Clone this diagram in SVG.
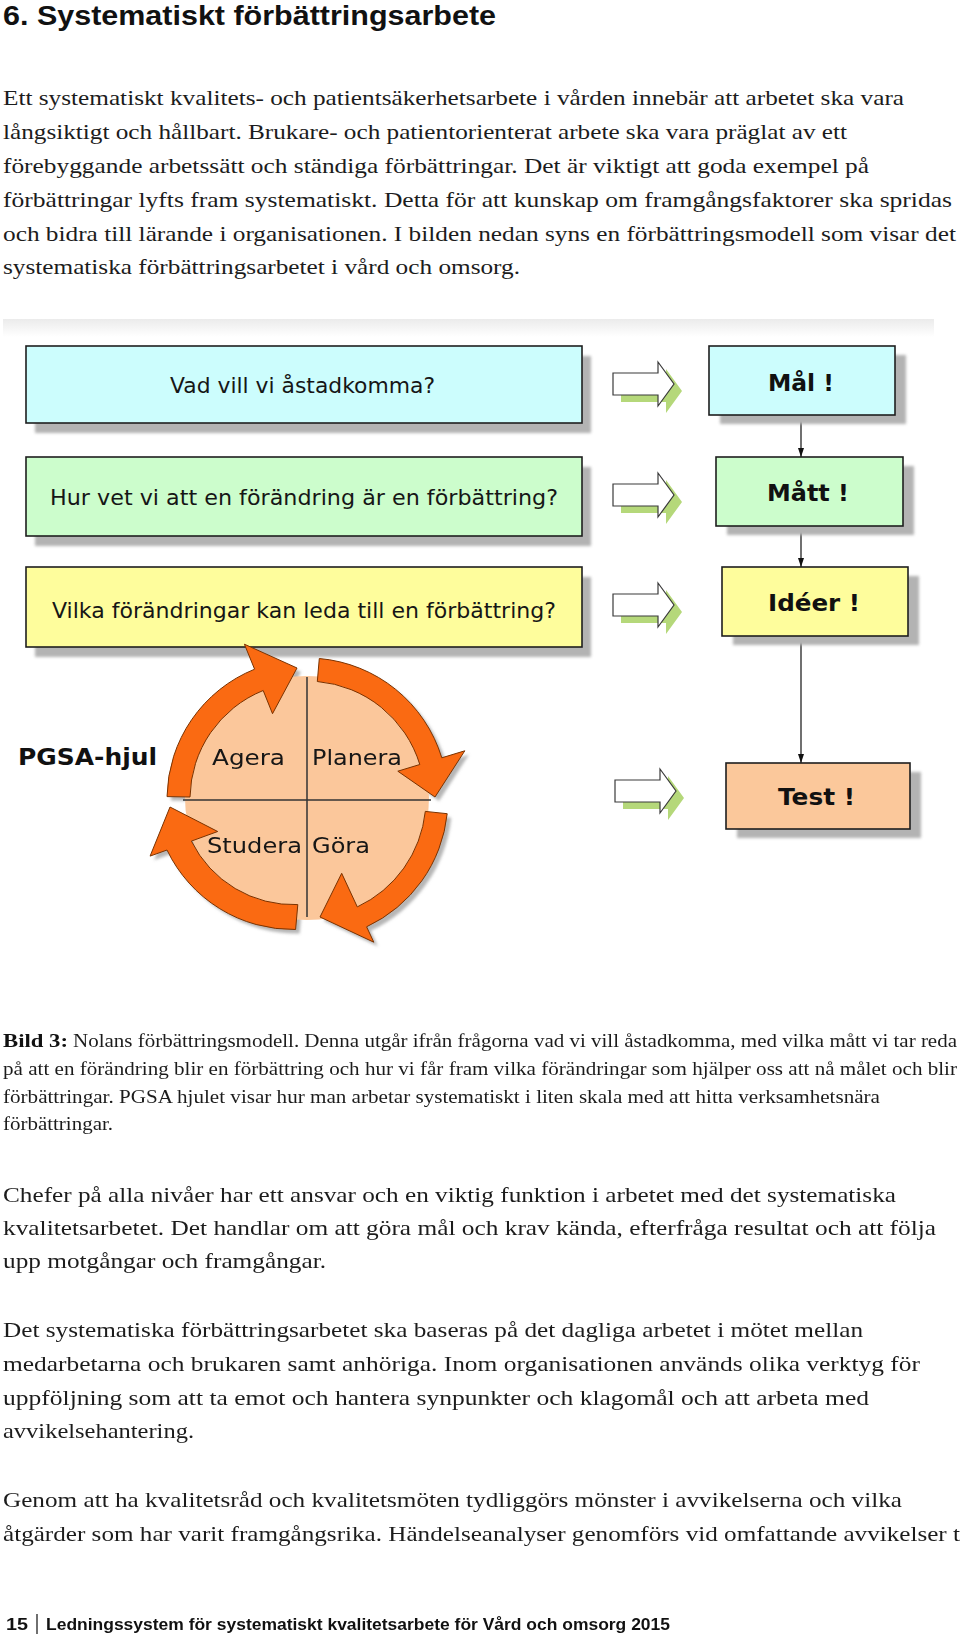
<svg xmlns="http://www.w3.org/2000/svg" width="960" height="1639" viewBox="0 0 960 1639">
<defs>
<style>
.serif{font-family:"Liberation Serif","Times New Roman",serif;font-size:21px;fill:#1c1c1c}
.cap{font-family:"Liberation Serif","Times New Roman",serif;font-size:18.5px;fill:#1c1c1c}
.capb{font-family:"Liberation Serif","Times New Roman",serif;font-size:18.5px;font-weight:bold;fill:#111}
.head{font-family:"Liberation Sans",Arial,sans-serif;font-weight:bold;fill:#111}
.lbl{font-family:"DejaVu Sans",Verdana,sans-serif;font-size:22px;fill:#161616}
.wlbl{font-family:"DejaVu Sans",Verdana,sans-serif;font-size:21px;fill:#161616}
.blbl{font-family:"DejaVu Sans",Verdana,sans-serif;font-weight:bold;font-size:23px;fill:#111}
.box{stroke:#1e1e1e;stroke-width:1.6}
.shadow{fill:#b3b3b3}
.orange{fill:#FA6A12;stroke:#7a3200;stroke-width:1}
.ashadow{fill:#8f8f8f;opacity:0.65}
.hollow{fill:#fff;stroke:#3a3a3a;stroke-width:1.2}
.hshadow{fill:#b5d87a}
.conn{stroke:#111;stroke-width:1.2;fill:none}
.div{stroke:#333;stroke-width:1.5}
</style>
<filter id="blur" x="-20%" y="-20%" width="140%" height="140%"><feGaussianBlur stdDeviation="1.5"/></filter>
<linearGradient id="band" x1="0" y1="0" x2="0" y2="1"><stop offset="0" stop-color="#ebebeb"/><stop offset="1" stop-color="#ffffff"/></linearGradient>
<marker id="ah" markerWidth="9" markerHeight="6" refX="9" refY="3" orient="auto" markerUnits="userSpaceOnUse"><path d="M0,0 L9,3 L0,6 z" fill="#111"/></marker>
<path id="harrow" d="M0,-11 H45 V-22 L61,0 L45,22 V11 H0 Z"/>
<path id="arrP" d="M 319.3 658.5 A 141 141 0 0 1 441.8 757.8 L 464.8 750.8 L 435 797 L 397.8 771.2 L 419.8 764.5 A 118 118 0 0 0 317.3 681.5 Z"/>
<path id="arrG" d="M 447.2 813.7 A 141 141 0 0 1 366.6 926.8 L 373.8 942.2 L 320 917 L 341.7 873.3 L 357.3 906.9 A 119 119 0 0 0 425.3 811.4 Z"/>
<path id="arrS" d="M 295.6 929.5 A 140 140 0 0 1 167.0 850.0 L 150.1 856.1 L 170 807 L 217.7 831.5 L 191.4 841.1 A 114 114 0 0 0 297.8 904.6 Z"/>
<path id="arrA" d="M 167.0 796.6 A 140 140 0 0 1 254.6 669.2 L 244.4 644.2 L 297 668 L 272.5 713.7 L 263.2 690.5 A 117 117 0 0 0 190.0 797.0 Z"/>
</defs>
<rect width="960" height="1639" fill="#fff"/>

<g id="text-top">
<text class="head" x="3" y="25" font-size="27" textLength="493" lengthAdjust="spacingAndGlyphs">6. Systematiskt förbättringsarbete</text>
<text class="serif" x="3" y="105" textLength="901" lengthAdjust="spacingAndGlyphs">Ett systematiskt kvalitets- och patientsäkerhetsarbete i vården innebär att arbetet ska vara</text>
<text class="serif" x="3" y="139" textLength="844" lengthAdjust="spacingAndGlyphs">långsiktigt och hållbart. Brukare- och patientorienterat arbete ska vara präglat av ett</text>
<text class="serif" x="3" y="173" textLength="866" lengthAdjust="spacingAndGlyphs">förebyggande arbetssätt och ständiga förbättringar. Det är viktigt att goda exempel på</text>
<text class="serif" x="3" y="207" textLength="949" lengthAdjust="spacingAndGlyphs">förbättringar lyfts fram systematiskt.  Detta för att kunskap om framgångsfaktorer ska spridas</text>
<text class="serif" x="3" y="241" textLength="953" lengthAdjust="spacingAndGlyphs">och bidra till lärande i organisationen. I bilden nedan syns en förbättringsmodell som visar det</text>
<text class="serif" x="3" y="274" textLength="517" lengthAdjust="spacingAndGlyphs">systematiska förbättringsarbetet i vård och omsorg.</text>
</g>

<rect x="3" y="319" width="931" height="18" fill="url(#band)"/>

<g id="connectors">
<line class="conn" x1="801" y1="415" x2="801" y2="457" marker-end="url(#ah)"/>
<line class="conn" x1="801" y1="526" x2="801" y2="567" marker-end="url(#ah)"/>
<line class="conn" x1="801" y1="636" x2="801" y2="763" marker-end="url(#ah)"/>
<use href="#harrow" class="hshadow" transform="translate(621,391)"/>
<use href="#harrow" class="hollow" transform="translate(613,384)"/>
<use href="#harrow" class="hshadow" transform="translate(621,502)"/>
<use href="#harrow" class="hollow" transform="translate(613,495)"/>
<use href="#harrow" class="hshadow" transform="translate(621,612)"/>
<use href="#harrow" class="hollow" transform="translate(613,605)"/>
<use href="#harrow" class="hshadow" transform="translate(623,798)"/>
<use href="#harrow" class="hollow" transform="translate(615,791)"/>
</g>

<g id="q1">
<rect class="shadow" x="35" y="356" width="556" height="77" filter="url(#blur)"/>
<rect class="box" x="26" y="346" width="556" height="77" fill="#ccfdfd"/>
<text class="lbl" x="170" y="393" textLength="265" lengthAdjust="spacingAndGlyphs">Vad vill vi åstadkomma?</text>
</g>
<g id="q2">
<rect class="shadow" x="35" y="467" width="556" height="79" filter="url(#blur)"/>
<rect class="box" x="26" y="457" width="556" height="79" fill="#ccfdcc"/>
<text class="lbl" x="50" y="505" textLength="508" lengthAdjust="spacingAndGlyphs">Hur vet vi att en förändring är en förbättring?</text>
</g>
<g id="q3">
<rect class="shadow" x="35" y="577" width="556" height="80" filter="url(#blur)"/>
<rect class="box" x="26" y="567" width="556" height="80" fill="#fefd9c"/>
<text class="lbl" x="52" y="618" textLength="504" lengthAdjust="spacingAndGlyphs">Vilka förändringar kan leda till en förbättring?</text>
</g>

<g id="mal">
<rect class="shadow" x="720" y="355" width="186" height="69" filter="url(#blur)"/>
<rect class="box" x="709" y="346" width="186" height="69" fill="#ccfdfd"/>
<text class="blbl" x="768" y="391" textLength="66" lengthAdjust="spacingAndGlyphs">Mål !</text>
</g>
<g id="matt">
<rect class="shadow" x="727" y="466" width="187" height="69" filter="url(#blur)"/>
<rect class="box" x="716" y="457" width="187" height="69" fill="#ccfdcc"/>
<text class="blbl" x="767" y="501" textLength="82" lengthAdjust="spacingAndGlyphs">Mått !</text>
</g>
<g id="ideer">
<rect class="shadow" x="733" y="576" width="186" height="69" filter="url(#blur)"/>
<rect class="box" x="722" y="567" width="186" height="69" fill="#fefd9c"/>
<text class="blbl" x="768" y="611" textLength="92" lengthAdjust="spacingAndGlyphs">Idéer !</text>
</g>
<g id="test">
<rect class="shadow" x="737" y="772" width="184" height="66" filter="url(#blur)"/>
<rect class="box" x="726" y="763" width="184" height="66" fill="#fbc89b"/>
<text class="blbl" x="778" y="805" textLength="77" lengthAdjust="spacingAndGlyphs">Test !</text>
</g>

<g id="pgsa-label">
<text class="blbl" x="18" y="765" textLength="139" lengthAdjust="spacingAndGlyphs">PGSA-hjul</text>
</g>

<g id="pgsa-wheel">
<g transform="translate(4,4)" filter="url(#blur)">
<use href="#arrP" class="ashadow"/>
<use href="#arrG" class="ashadow"/>
<use href="#arrS" class="ashadow"/>
<use href="#arrA" class="ashadow"/>
</g>
<circle cx="307" cy="798" r="122" fill="#fbc79b"/>
<line class="div" x1="307" y1="677" x2="307" y2="917"/>
<line class="div" x1="183" y1="800" x2="431" y2="800"/>
<use href="#arrP" class="orange"/>
<use href="#arrG" class="orange"/>
<use href="#arrS" class="orange"/>
<use href="#arrA" class="orange"/>
<text class="wlbl" x="212" y="765" textLength="73" lengthAdjust="spacingAndGlyphs">Agera</text>
<text class="wlbl" x="312" y="765" textLength="90" lengthAdjust="spacingAndGlyphs">Planera</text>
<text class="wlbl" x="207" y="853" textLength="95" lengthAdjust="spacingAndGlyphs">Studera</text>
<text class="wlbl" x="312" y="853" textLength="58" lengthAdjust="spacingAndGlyphs">Göra</text>
</g>

<g id="caption">
<text class="capb" x="3" y="1047" textLength="65" lengthAdjust="spacingAndGlyphs">Bild 3:</text>
<text class="cap" x="73" y="1047" textLength="884" lengthAdjust="spacingAndGlyphs">Nolans förbättringsmodell. Denna utgår ifrån frågorna vad vi vill åstadkomma, med vilka mått vi tar reda</text>
<text class="cap" x="3" y="1075" textLength="954" lengthAdjust="spacingAndGlyphs">på att en förändring blir en förbättring och hur vi får fram vilka förändringar som hjälper oss att nå målet och blir</text>
<text class="cap" x="3" y="1103" textLength="877" lengthAdjust="spacingAndGlyphs">förbättringar. PGSA hjulet visar hur man arbetar systematiskt i liten skala med att hitta verksamhetsnära</text>
<text class="cap" x="3" y="1130" textLength="110" lengthAdjust="spacingAndGlyphs">förbättringar.</text>
</g>

<g id="text-bottom">
<text class="serif" x="3" y="1202" textLength="893" lengthAdjust="spacingAndGlyphs">Chefer på alla nivåer har ett ansvar och en viktig funktion i arbetet med det systematiska</text>
<text class="serif" x="3" y="1235" textLength="933" lengthAdjust="spacingAndGlyphs">kvalitetsarbetet. Det handlar om att göra mål och krav kända, efterfråga resultat och att följa</text>
<text class="serif" x="3" y="1268" textLength="323" lengthAdjust="spacingAndGlyphs">upp motgångar och framgångar.</text>
<text class="serif" x="3" y="1337" textLength="860" lengthAdjust="spacingAndGlyphs">Det systematiska förbättringsarbetet ska baseras på det dagliga arbetet i mötet mellan</text>
<text class="serif" x="3" y="1371" textLength="917" lengthAdjust="spacingAndGlyphs">medarbetarna och brukaren samt anhöriga. Inom organisationen används olika verktyg för</text>
<text class="serif" x="3" y="1405" textLength="866" lengthAdjust="spacingAndGlyphs">uppföljning som att ta emot och hantera synpunkter och klagomål och att arbeta med</text>
<text class="serif" x="3" y="1438" textLength="191" lengthAdjust="spacingAndGlyphs">avvikelsehantering.</text>
<text class="serif" x="3" y="1507" textLength="899" lengthAdjust="spacingAndGlyphs">Genom att ha kvalitetsråd och kvalitetsmöten tydliggörs mönster i avvikelserna och vilka</text>
<text class="serif" x="3" y="1541" textLength="957" lengthAdjust="spacingAndGlyphs">åtgärder som har varit framgångsrika. Händelseanalyser genomförs vid omfattande avvikelser t</text>
</g>

<g id="footer">
<text class="head" x="6" y="1630" font-size="17" textLength="22" lengthAdjust="spacingAndGlyphs">15</text>
<line x1="37" y1="1614" x2="37" y2="1634" stroke="#222" stroke-width="1.3"/>
<text class="head" x="46" y="1630" font-size="17" textLength="624" lengthAdjust="spacingAndGlyphs">Ledningssystem för systematiskt kvalitetsarbete för Vård och omsorg 2015</text>
</g>
</svg>
